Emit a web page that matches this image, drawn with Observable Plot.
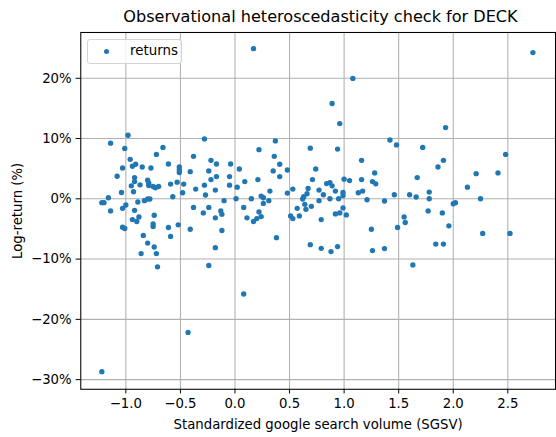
<!DOCTYPE html>
<html>
<head>
<meta charset="utf-8">
<script src="https://cdn.jsdelivr.net/npm/d3@7"></script>
<script src="https://cdn.jsdelivr.net/npm/@observablehq/plot@0.6"></script>
<style>
  body { margin: 0; background: #fff; font-family: "DejaVu Sans", sans-serif; }
  #wrap { position: relative; width: 556px; height: 437px; overflow: hidden; background: #fff; }
  #title { position: relative; height: 31px; }
  #title span { position: absolute; left: 81px; width: 479px; top: 9px; text-align: center;
    font-size: 16.1px; line-height: 1; color: #000; white-space: nowrap; }
  #legend { position: absolute; left: 87px; top: 39px; width: 93px; height: 23px;
    border: 1px solid #d4d4d4; border-radius: 3px; background: rgba(255,255,255,0.8); }
  #legend .swatch { position: absolute; left: 16px; top: 9px; width: 5.4px; height: 5.4px;
    border-radius: 50%; background: #1f77b4; }
  #legend .lbl { position: absolute; left: 42px; top: 4px; font-size: 13.4px; line-height: 1; color: #000; }
</style>
</head>
<body>
<div id="wrap">
  <div id="title"><span>Observational heteroscedasticity check for DECK</span></div>
  <div id="chart"></div>
  <div id="legend"><div class="swatch"></div><div class="lbl">returns</div></div>
</div>
<script>
// Standardized google search volume (SGSV) for each week
const sgsv = [
  -1.14, -0.98, -1.01, -0.66, -0.28, 0.17, 1.08, 0.89, 0.96, 0.37,
  0.22, 0.69, 0.94, 2.73, 1.93, 1.42, 1.48, 1.72, -0.72, -0.96,
  -0.91, -0.94, -1.03, -0.85, -0.77, -0.61, -0.38, -0.51, -0.51, -0.51,
  -0.41, -0.22, -0.17, -0.04, -0.24, -0.17, -0.05, -1.08, -0.92, -0.92,
  -0.95, -0.87, -0.80, -0.79, -0.79, -0.75, -0.73, -0.70, -0.59, -0.53,
  -0.47, -0.36, -0.22, -0.28, -0.18, -0.05, 0.02, -1.04, -0.93, -0.48,
  -0.27, -0.57, -1.16, -1.22, -1.20, -0.89, -0.83, -0.80, -0.78, -0.10,
  0.01, -1.14, -1.03, -1.00, -0.92, -0.38, -0.24, -0.29, -0.13, -0.12,
  -0.18, -0.88, -0.94, -0.90, -0.74, -0.75, -0.75, -0.52, -0.61, -1.03,
  -1.01, -0.41, -0.12, -0.59, -0.84, -0.80, -0.74, -0.18, -0.86, -0.72,
  -0.71, -0.24, 0.36, 0.41, 0.04, 0.35, 0.48, 0.74, 0.41, 0.21,
  0.09, 0.71, 1.16, 1.28, 1.00, 1.05, 1.16, 1.26, 1.29, 0.32,
  0.53, 0.48, 0.67, 0.84, 0.87, 0.89, 0.77, 0.92, 0.81, 0.99,
  0.99, 1.13, 1.17, 0.66, 0.63, 0.62, 0.24, 0.26, 0.15, 0.31,
  0.26, 0.77, 0.87, 0.95, 1.21, 1.37, 0.64, 0.65, 0.57, 0.70,
  0.08, 0.22, 0.24, 0.20, 0.17, 0.11, 0.51, 0.53, 0.59, 0.99,
  0.92, 0.96, 1.02, 0.79, 1.25, 0.38, 0.69, 0.79, 0.88, 0.94,
  1.26, 1.37, 2.48, 1.91, 1.86, 2.21, 2.41, 1.67, 2.13, 1.78,
  1.46, 1.60, 1.66, 1.78, 2.25, 2.00, 2.02, 1.77, 1.90, 1.55,
  1.56, 1.49, 1.96, 2.27, 2.52, 1.84, 1.91, 1.63, 0.08, -0.43,
  -1.22
];

// Weekly log-return of DECK, in percent
const logReturn = [
  9.23, 10.55, 8.36, 8.53, 9.94, 24.92, 19.98, 15.82, 12.48, 9.61,
  8.16, 8.41, 8.25, 24.26, 11.82, 9.76, 8.95, 8.53, 7.37, 6.55,
  5.73, 5.40, 5.12, 5.28, 5.12, 5.78, 7.05, 5.28, 4.79, 4.35,
  4.51, 6.39, 5.78, 5.78, 4.63, 3.69, 3.69, 3.75, 3.52, 2.86,
  2.16, 2.32, 3.09, 2.60, 2.21, 2.04, 1.83, 2.04, 2.44, 2.77,
  2.44, 1.61, 3.19, 2.27, 1.45, 2.27, 1.94, 1.05, 1.17, 1.00,
  0.63, 0.35, 0.18, -0.64, -0.64, -0.53, -0.31, -0.03, -0.03, -0.31,
  0.02, -2.01, -1.58, -1.02, -1.91, -1.42, -1.42, -2.34, -2.01, -2.57,
  -3.16, -3.00, -3.44, -3.77, -2.73, -4.15, -4.59, -4.31, -4.76, -4.71,
  -4.92, -5.04, -5.25, -6.24, -6.07, -7.34, -8.00, -8.10, -9.09, -9.09,
  -11.29, -11.06, 7.05, 5.73, 4.95, 4.63, 4.79, 4.95, 3.69, 3.19,
  2.86, 3.19, 6.39, 4.30, 3.26, 3.03, 3.19, 2.86, 2.49, 1.28,
  1.61, 0.95, 1.71, 2.53, 2.70, 2.16, 1.45, 1.28, 0.67, 1.05,
  0.56, 1.00, 1.28, 0.84, 0.35, -0.03, 0.46, 0.18, 0.02, -0.31,
  -0.76, -0.31, 0.02, 0.02, -0.15, -0.36, -0.92, -1.74, -1.58, -1.25,
  -1.42, -2.17, -2.95, -3.28, -3.77, -3.16, -2.83, -3.28, -2.83, -1.51,
  -2.50, -2.34, -2.67, -3.44, -5.04, -6.45, -7.60, -8.21, -8.76, -7.93,
  -8.59, -8.26, 7.37, 6.39, 5.28, 4.18, 4.30, 3.52, 1.94, 1.12,
  0.67, 0.67, 0.30, 0.02, 0.02, -0.81, -0.64, -2.01, -2.34, -3.00,
  -3.93, -4.76, -4.48, -5.74, -5.74, -7.51, -7.51, -10.96, -15.79, -22.16,
  -28.68
];

const xTicks = [-1, -0.5, 0, 0.5, 1, 1.5, 2, 2.5];
const yTicks = [-30, -20, -10, 0, 10, 20];

const rows = sgsv.map((x, i) => ({sgsv: x, ret: logReturn[i]}));

const gridStyle = {stroke: "#b0b0b0", strokeOpacity: 1, strokeWidth: 1.07};

const chart = Plot.plot({
  width: 561,
  height: 406,
  marginTop: 1,
  marginRight: 1,
  marginBottom: 45,
  marginLeft: 81,
  style: {fontFamily: "DejaVu Sans", fontSize: "13.4px", color: "#000", background: "#fff"},
  x: {domain: [-1.413, 2.937]},
  y: {domain: [-31.6, 27.6]},
  marks: [
    Plot.gridX(xTicks, gridStyle),
    Plot.gridY(yTicks, gridStyle),
    Plot.dot(rows, {x: "sgsv", y: "ret", r: 2.7, fill: "#1f77b4", stroke: null}),
    Plot.frame({stroke: "#000", strokeWidth: 1.07}),
    Plot.axisX(xTicks, {
      tickFormat: d3.format(".1f"), tickSize: 4.7, tickPadding: 4.5,
      label: "Standardized google search volume (SGSV)",
      labelAnchor: "center", labelArrow: "none", labelOffset: 40
    }),
    Plot.axisY(yTicks, {
      tickFormat: d => d3.format("d")(d) + "%", tickSize: 4.7, tickPadding: 4.5,
      label: "Log-return (%)",
      labelAnchor: "center", labelArrow: "none", labelOffset: 69
    })
  ]
});
document.getElementById("chart").appendChild(chart);
</script>
</body>
</html>
